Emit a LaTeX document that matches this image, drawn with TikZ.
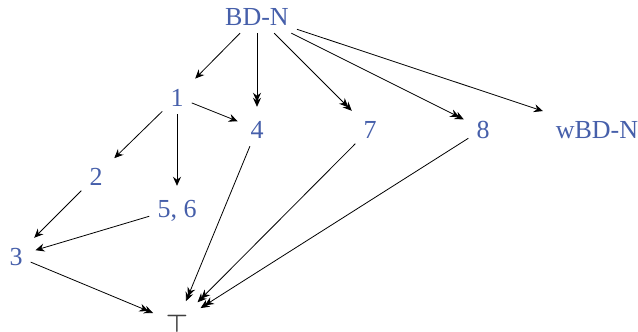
\documentclass[tikz,border=0pt]{standalone}
\usepackage{fontspec}
\setmainfont{Liberation Serif}
\usetikzlibrary{arrows.meta}
\definecolor{nodeblue}{RGB}{70,95,170}
\begin{document}
\begin{tikzpicture}[x=1pt,y=-1pt,
  lbl/.style={text=nodeblue,font=\fontsize{26}{30}\selectfont,inner sep=8pt,text height=18pt,text depth=0pt},
  arr/.style={line width=0.8pt,-{Stealth[length=9pt,width=8pt,inset=3pt]},shorten >=5pt},
  darr/.style={line width=0.8pt,-{Stealth[length=9pt,width=8pt,inset=3pt,sep=-4pt]Stealth[length=9pt,width=8pt,inset=3pt]},shorten >=5pt}]
\useasboundingbox (0,0) rectangle (638,332);
\node[lbl] (bdn) at (257,16) {BD-N};
\node[lbl] (n1) at (177,97) {1};
\node[lbl] (n4) at (257,129) {4};
\node[lbl] (n7) at (370,129) {7};
\node[lbl] (n8) at (483,129) {8};
\node[lbl] (wbdn) at (597,129) {wBD-N};
\node[lbl] (n2) at (96,176) {2};
\node[lbl] (n56) at (177,208) {5, 6};
\node[lbl] (n3) at (16,256) {3};
\node[lbl,text=darkgray,font=\fontsize{26}{30}\selectfont\boldmath] (top) at (177,323) {$\top$};
\draw[arr] (bdn) -- (n1);
\draw[darr] (bdn) -- (n4);
\draw[darr] (bdn) -- (n7);
\draw[darr] (bdn) -- (n8);
\draw[arr] (bdn) -- (wbdn);
\draw[arr] (n1) -- (n4);
\draw[arr] (n1) -- (n2);
\draw[arr] (n1) -- (n56);
\draw[arr] (n2) -- (n3);
\draw[arr] (n56) -- (n3);
\draw[darr] (n3) -- (top);
\draw[darr] (n4) -- (top);
\draw[darr] (n7) -- (top);
\draw[darr] (n8) -- (top);
\end{tikzpicture}
\end{document}
